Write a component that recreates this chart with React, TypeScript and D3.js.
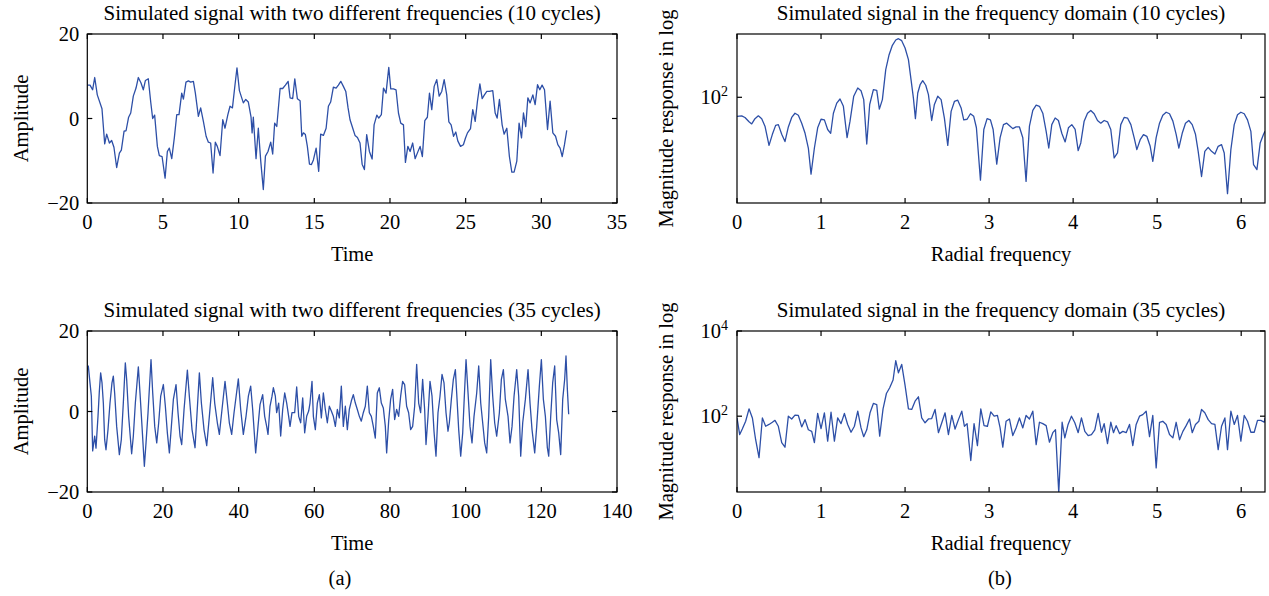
import React from 'react';
import * as d3 from 'd3';

// ---------- DATA ----------
// Top-left: simulated signal (10 cycles), [time, amplitude]
const signal10: [number, number][] = [
  [0,7.9],[0.18,7.9],[0.35,6.8],[0.49,9.7],[0.66,5.6],[0.97,2.3],[1.15,-6.0],[1.28,-3.7],[1.46,-5.8],[1.61,-5.2],[1.76,-6.8],[1.94,-11.6],[2.12,-8.2],[2.25,-7.5],[2.43,-3.0],[2.56,-2.9],[2.73,0.3],[2.87,1.3],[3.04,5.3],[3.22,7.2],[3.37,9.7],[3.55,8.4],[3.70,6.8],[3.84,9.0],[4.03,9.4],[4.19,3.9],[4.32,0.0],[4.45,0.8],[4.63,-6.6],[4.76,-8.8],[4.94,-9.0],[5.14,-14.1],[5.29,-7.8],[5.42,-7.0],[5.58,-9.5],[5.75,-4.6],[5.91,0.9],[6.06,0.9],[6.24,6.0],[6.35,4.6],[6.52,8.6],[6.68,8.9],[6.83,8.6],[7.01,8.8],[7.14,6.0],[7.34,0.5],[7.49,2.5],[7.67,-0.7],[7.85,-4.2],[8.00,-5.6],[8.15,-5.8],[8.31,-12.9],[8.46,-5.6],[8.59,-6.6],[8.77,-8.8],[8.95,-0.3],[9.10,-2.3],[9.28,0.8],[9.43,2.9],[9.59,2.5],[9.76,8.0],[9.89,12.0],[10.05,6.6],[10.31,3.7],[10.47,4.5],[10.64,3.9],[10.82,0.3],[10.89,-3.4],[10.97,0.3],[11.15,-9.5],[11.30,-2.3],[11.46,-10.1],[11.63,-16.8],[11.77,-8.9],[11.94,-7.8],[12.12,-5.6],[12.25,-8.4],[12.38,-1.1],[12.52,-1.9],[12.74,7.1],[12.91,7.1],[13.09,7.9],[13.27,8.8],[13.40,4.9],[13.57,4.7],[13.71,9.4],[13.88,4.7],[14.06,4.2],[14.17,-4.2],[14.28,-3.4],[14.41,-3.8],[14.54,-6.6],[14.68,-10.8],[14.81,-10.9],[14.94,-9.8],[15.12,-7.0],[15.29,-12.5],[15.42,-3.7],[15.60,-4.0],[15.78,-2.3],[15.93,2.9],[16.08,3.9],[16.26,7.4],[16.44,7.2],[16.59,7.9],[16.75,8.8],[16.92,7.6],[17.08,6.4],[17.23,2.5],[17.36,-0.3],[17.54,-2.3],[17.69,-4.0],[17.85,-4.5],[18.02,-5.8],[18.16,-10.8],[18.31,-12.1],[18.46,-3.8],[18.64,-7.8],[18.82,-9.6],[18.95,-1.5],[19.13,0.8],[19.26,0.1],[19.43,0.9],[19.57,7.2],[19.74,6.0],[19.92,12.1],[20.05,7.0],[20.23,7.0],[20.40,6.8],[20.56,1.3],[20.71,-1.1],[20.89,-1.5],[21.02,-10.4],[21.18,-6.6],[21.33,-7.8],[21.50,-5.8],[21.66,-9.5],[21.84,-7.9],[21.99,-6.6],[22.14,-9.0],[22.30,-0.5],[22.47,0.3],[22.61,6.0],[22.76,2.1],[22.92,7.6],[23.09,9.2],[23.25,5.3],[23.42,6.4],[23.58,9.2],[23.75,5.6],[23.89,-0.8],[24.04,-1.5],[24.20,-4.2],[24.35,-3.2],[24.48,-5.3],[24.66,-6.6],[24.85,-6.2],[24.99,-4.6],[25.12,-3.4],[25.32,-2.4],[25.47,2.1],[25.63,-0.7],[25.78,4.1],[25.94,8.2],[26.09,4.7],[26.24,5.6],[26.40,6.4],[26.57,6.4],[26.79,6.6],[26.95,1.3],[27.08,0.1],[27.23,4.5],[27.41,-1.5],[27.54,-3.7],[27.72,-2.3],[27.89,-9.0],[28.05,-12.7],[28.20,-12.7],[28.38,-10.1],[28.53,-1.1],[28.69,-4.6],[28.82,1.3],[28.97,-1.9],[29.11,4.9],[29.26,3.7],[29.44,5.6],[29.59,3.3],[29.75,8.0],[29.90,6.8],[30.05,7.9],[30.21,6.8],[30.41,-2.6],[30.58,4.1],[30.76,-3.4],[30.94,-4.2],[31.09,-6.2],[31.24,-7.0],[31.38,-9.0],[31.53,-6.2],[31.68,-2.8]
];

// Bottom-left: simulated signal (35 cycles), [time, amplitude]
const signal35: [number, number][] = [
  [0,10.4],[0.27,11.3],[0.71,7.1],[1.07,3.8],[1.42,-9.8],[1.95,-6.1],[2.30,-9.1],[2.83,-1.2],[3.18,5.0],[3.53,9.6],[3.89,7.1],[4.24,2.1],[4.59,-7.0],[4.94,-9.5],[5.47,-4.5],[6.00,2.1],[6.52,7.1],[6.88,8.8],[7.23,4.6],[7.76,-3.7],[8.47,-10.7],[8.99,-7.0],[9.52,2.1],[10.05,12.1],[10.40,8.0],[10.93,-1.2],[11.72,-10.5],[12.17,-6.1],[12.70,2.1],[13.49,11.1],[13.93,4.6],[14.46,-3.7],[15.08,-13.6],[15.52,-7.8],[16.05,-0.3],[16.84,12.9],[17.29,4.6],[17.82,-3.7],[18.35,-7.8],[18.87,-2.8],[19.40,3.8],[20.10,6.7],[20.63,1.3],[21.16,-5.3],[21.69,-10.3],[22.22,-3.7],[22.75,3.0],[23.45,6.7],[23.98,-0.3],[24.51,-6.1],[24.95,-8.2],[25.57,0.5],[26.45,10.3],[26.97,3.8],[27.68,-4.5],[28.47,-9.0],[28.91,-2.0],[29.62,9.6],[30.15,2.1],[30.85,-4.5],[31.56,-8.5],[32.26,-1.2],[33.14,8.4],[33.67,2.1],[34.37,-2.8],[34.90,-5.7],[35.60,0.5],[36.40,7.5],[37.01,2.1],[37.54,-2.8],[38.16,-5.7],[38.78,-0.3],[39.92,8.1],[40.54,0.5],[41.24,-5.7],[41.95,-1.2],[42.57,3.8],[43.18,6.3],[43.71,0.5],[44.50,-10.3],[45.12,-3.7],
  [45.65,1.7],[46.35,4.2],[46.88,-1.2],[47.41,-3.7],[47.76,-5.7],[48.29,1.3],[48.82,3.8],[49.17,5.9],[49.70,3.8],[50.05,-0.3],[50.58,2.1],[51.11,-6.1],[51.64,0.5],[52.17,4.6],[52.70,2.1],[53.22,-1.2],[53.58,-3.7],[54.10,-0.3],[54.81,-0.3],[55.34,6.1],[55.87,-1.2],[56.40,-2.8],[56.93,3.4],[57.45,-5.3],[57.98,-1.2],[58.51,0.1],[58.86,2.1],[59.39,7.5],[59.75,-1.2],[60.27,-4.5],[60.80,2.1],[61.33,4.2],[61.86,-1.6],[62.39,4.6],[62.91,0.5],[63.44,-2.8],[63.97,1.3],[64.50,0.1],[65.03,-1.2],[65.56,-3.7],[66.08,0.5],[66.61,-1.6],[67.14,6.3],[67.67,-3.7],[68.20,1.3],[68.73,-4.5],[69.25,0.5],[69.78,2.6],[70.31,4.2],[70.84,2.1],[71.37,0.5],[71.90,-1.2],[72.42,-2.4],[72.95,-0.3],[73.48,1.3],[74.01,6.3],[74.54,-0.3],[75.07,-1.2],[75.59,-3.7],[76.12,-6.6],[76.65,4.6],[77.18,5.9],[77.71,2.1],[78.24,0.9],[78.77,-3.7],[79.12,-10.3],[79.65,-2.4],[80.17,3.0],[80.70,5.5],[81.23,-2.0],[81.76,0.5],[82.29,-1.2],[82.82,3.8],[83.34,7.5],[83.87,6.7],[84.40,1.3],[84.93,-0.3],[85.46,-4.5],[85.99,-3.7],[86.52,1.3],[87.05,11.7],[87.58,2.1],[88.10,-0.3],[88.63,8.0],[89.16,0.5],[89.52,-8.2],[90.05,-1.2],[90.58,7.5],[91.11,3.8],[91.63,-4.9],[92.16,-11.1],[92.69,-0.3],[93.22,3.8],[93.75,9.2],[94.28,7.1],[94.81,-0.3],[95.33,-4.9],
  [95.69,-2.8],[96.22,3.0],[96.75,8.0],[97.28,10.4],[97.63,4.6],[98.16,-4.5],[98.69,-11.1],[99.22,-5.3],[99.57,2.1],[100.10,12.9],[100.63,4.6],[101.15,-3.7],[101.68,-7.8],[102.21,-1.2],[102.92,4.6],[103.45,11.3],[103.98,2.1],[104.50,-2.8],[105.03,-7.8],[105.56,-10.3],[106.09,-1.2],[106.62,12.9],[107.15,3.8],[107.67,-2.8],[108.20,-6.1],[108.91,-0.3],[109.44,8.0],[109.97,10.4],[110.49,3.0],[111.20,-1.2],[111.73,-7.8],[112.26,-3.7],[112.79,3.8],[113.49,10.4],[114.02,3.8],[114.55,-11.1],[115.08,-2.8],[115.78,3.0],[116.49,10.4],[117.01,2.1],[117.54,-4.5],[118.25,-10.3],[118.78,-3.7],[119.48,6.3],[120.01,12.9],[120.54,3.0],[121.07,-1.2],[121.59,-9.0],[121.95,-11.1],[122.48,-1.2],[123.00,7.1],[123.53,11.3],[124.06,-2.0],[124.59,-5.3],[125.12,-10.7],[125.65,3.0],[126.17,8.0],[126.52,13.8],[126.88,5.5],[127.23,-0.7]
];

// Top-right: magnitude spectrum (10 cycles), [radial frequency, magnitude]
const spectrum10: [number, number][] = [
  [0,50],[0.056,51],[0.095,48],[0.143,41],[0.175,38],[0.214,46],[0.254,51],[0.294,46],[0.333,35],[0.381,17.4],[0.421,26],[0.460,36],[0.492,37],[0.532,26],[0.571,20],[0.611,34],[0.651,48],[0.690,56],[0.730,52],[0.770,39],[0.810,27],[0.849,15.8],[0.881,6.1],[0.921,15.8],[0.960,33],[1.000,45],[1.040,44],[1.079,31],[1.115,27],[1.147,56],[1.187,81],[1.226,94],[1.266,72],[1.310,23],[1.345,42],[1.389,104],[1.437,140],[1.476,127],[1.508,92],[1.544,18.3],[1.579,77],[1.623,132],[1.663,129],[1.694,65],[1.730,92],[1.770,273],[1.810,471],[1.849,662],[1.889,804],[1.921,843],[1.960,785],[2.000,601],[2.040,393],[2.071,190],[2.099,98],[2.123,46],[2.151,117],[2.179,158],[2.210,183],[2.246,155],[2.278,110],[2.317,43],[2.349,77],[2.389,104],[2.429,92],[2.468,47],[2.508,17.4],[2.548,60],[2.587,86],[2.627,90],[2.667,68],[2.698,44],[2.738,45],[2.778,55],[2.817,50],[2.849,33],[2.897,4.9],[2.937,31],[2.976,46],[3.016,44],[3.048,31],[3.091,8.8],[3.131,23],[3.171,37],[3.210,39],[3.250,35],[3.282,32],[3.321,34],[3.361,34],[3.401,23],[3.440,4.7],[3.480,35],[3.520,62],[3.560,75],[3.599,72],[3.639,56],[3.679,29],[3.710,15.8],[3.746,37],[3.786,47],[3.825,43],[3.865,27],[3.905,19.7],[3.944,33],[3.984,37],[4.024,31],[4.060,14.4],[4.091,19],[4.131,42],[4.171,56],[4.210,62],[4.250,55],[4.290,43],[4.329,39],[4.369,43],[4.409,41],[4.448,31],[4.488,11],[4.528,13.2],[4.567,37],[4.607,48],[4.647,47],[4.687,37],[4.726,23],[4.758,14.9],[4.798,21.4],[4.837,25.7],[4.877,24.2],[4.917,16.8],[4.948,9.7],[4.988,23],[5.028,39],[5.067,52],[5.107,58],[5.147,55],[5.187,42],[5.226,26],[5.258,15.8],[5.298,27],[5.337,39],[5.377,43],[5.417,37],[5.456,26],[5.488,14],[5.528,5.6],[5.567,14],[5.607,16.2],[5.647,14],[5.687,12.7],[5.726,16.8],[5.766,17.9],[5.798,13.2],[5.837,3.0],[5.877,14.9],[5.917,37],[5.956,53],[5.996,58],[6.036,55],[6.075,44],[6.115,29],[6.147,8.6],[6.187,7.2],[6.226,19],[6.266,26],[6.283,29]
];

// Bottom-right: magnitude spectrum (35 cycles), [radial frequency, magnitude]
const spectrum35: [number, number][] = [
  [0,91],[0.032,37],[0.063,50],[0.103,76],[0.143,149],[0.183,91],[0.222,28],[0.262,10.6],[0.302,91],[0.341,58],[0.381,64],[0.421,72],[0.452,80],[0.492,58],[0.532,24],[0.571,18.7],[0.611,100],[0.651,86],[0.690,106],[0.730,104],[0.770,56],[0.810,83],[0.849,48],[0.889,44],[0.921,24],[0.960,116],[1.000,51],[1.040,120],[1.079,26],[1.119,124],[1.159,26],[1.198,91],[1.238,67],[1.278,116],[1.317,64],[1.357,42],[1.397,58],[1.437,131],[1.476,53],[1.508,33],[1.544,48],[1.583,120],[1.623,199],[1.663,188],[1.698,34],[1.738,149],[1.778,341],[1.817,464],[1.857,703],[1.889,2005],[1.921,1047],[1.960,1644],[2.000,527],[2.040,149],[2.079,144],[2.119,225],[2.159,285],[2.198,91],[2.238,70],[2.278,86],[2.317,88],[2.357,144],[2.397,41],[2.437,70],[2.476,120],[2.516,37],[2.556,104],[2.595,50],[2.635,83],[2.675,131],[2.706,58],[2.738,67],[2.782,9.1],[2.821,67],[2.861,20.4],[2.901,149],[2.940,60],[2.980,58],[3.020,126],[3.060,100],[3.099,104],[3.131,53],[3.163,18.7],[3.202,76],[3.242,86],[3.282,35],[3.321,53],[3.361,91],[3.401,53],[3.440,104],[3.480,86],[3.520,131],[3.560,21.5],[3.599,72],[3.639,67],[3.679,60],[3.718,24.5],[3.758,41],[3.790,48],[3.829,1.6],[3.869,72],[3.901,31],[3.940,64],[3.980,100],[4.020,70],[4.060,41],[4.099,91],[4.139,44],[4.179,35],[4.218,37],[4.258,48],[4.298,116],[4.337,42],[4.369,67],[4.409,22.7],[4.448,72],[4.480,41],[4.512,60],[4.552,39],[4.591,44],[4.631,41],[4.671,64],[4.710,20.4],[4.750,64],[4.790,100],[4.829,109],[4.869,131],[4.909,33],[4.948,104],[4.988,6.1],[5.028,72],[5.067,76],[5.107,64],[5.147,37],[5.187,31],[5.226,72],[5.266,28],[5.306,44],[5.345,60],[5.385,86],[5.417,41],[5.456,64],[5.496,76],[5.528,144],[5.567,120],[5.607,83],[5.647,67],[5.687,64],[5.726,16.4],[5.766,58],[5.806,91],[5.837,16.4],[5.877,131],[5.917,64],[5.956,104],[5.996,26],[6.036,104],[6.075,76],[6.115,42],[6.155,42],[6.194,80],[6.234,80],[6.274,72],[6.283,91]
];

const timeTicks10 = [0, 5, 10, 15, 20, 25, 30, 35];
const timeTicks35 = [0, 20, 40, 60, 80, 100, 120, 140];
const ampTicks = [-20, 0, 20];
const freqTicks = [0, 1, 2, 3, 4, 5, 6];
const magTicks10 = [2];      // exponents of 10
const magTicks35 = [2, 4];   // exponents of 10

const titles = [
  'Simulated signal with two different frequencies (10 cycles)',
  'Simulated signal with two different frequencies (35 cycles)',
  'Simulated signal in the frequency domain (10 cycles)',
  'Simulated signal in the frequency domain (35 cycles)',
];

// ---------- STYLE ----------
const FONT = '"Liberation Serif", "Times New Roman", serif';
const FS = 20.5;
const TITLE_FS = 21;
const BLUE = '#2d4fa7';

type PanelProps = {
  id: string;
  x0: number; x1: number; y0: number; y1: number;
  xDomain: [number, number];
  yDomain: [number, number];
  log: boolean;
  data: [number, number][];
  xTicks: number[];
  yTicks: number[];
  title: string;
  xLabel: string;
  yLabel: string;
  yLabelX: number;
};

function fmtAmp(v: number) {
  return v < 0 ? '\u2212' + Math.abs(v) : String(v);
}

function Panel(p: PanelProps) {
  const x = d3.scaleLinear().domain(p.xDomain).range([p.x0, p.x1]);
  const y = p.log
    ? d3.scaleLog().domain(p.yDomain).range([p.y1, p.y0])
    : d3.scaleLinear().domain(p.yDomain).range([p.y1, p.y0]);
  const line = d3.line<[number, number]>()
    .x(d => x(d[0]))
    .y(d => y(d[1]));
  const tickLen = 5;
  const cx = (p.x0 + p.x1) / 2;
  const cy = (p.y0 + p.y1) / 2;
  return (
    <g>
      <defs>
        <clipPath id={p.id}>
          <rect x={p.x0} y={p.y0} width={p.x1 - p.x0} height={p.y1 - p.y0} />
        </clipPath>
      </defs>
      <path d={line(p.data) || ''} fill="none" stroke={BLUE} strokeWidth={1.3}
        strokeLinejoin="round" clipPath={`url(#${p.id})`} />
      <rect x={p.x0} y={p.y0} width={p.x1 - p.x0} height={p.y1 - p.y0}
        fill="none" stroke="#000" strokeWidth={1.2} />
      {p.xTicks.map(t => (
        <g key={'xt' + t}>
          <line x1={x(t)} x2={x(t)} y1={p.y1} y2={p.y1 - tickLen} stroke="#000" strokeWidth={1.2} />
          <line x1={x(t)} x2={x(t)} y1={p.y0} y2={p.y0 + tickLen} stroke="#000" strokeWidth={1.2} />
          <text x={x(t)} y={p.y1 + 26} textAnchor="middle" fontFamily={FONT} fontSize={FS}>{t}</text>
        </g>
      ))}
      {p.yTicks.map(t => {
        const v = p.log ? Math.pow(10, t) : t;
        const yy = y(v);
        return (
          <g key={'yt' + t}>
            <line x1={p.x0} x2={p.x0 + tickLen} y1={yy} y2={yy} stroke="#000" strokeWidth={1.2} />
            <line x1={p.x1} x2={p.x1 - tickLen} y1={yy} y2={yy} stroke="#000" strokeWidth={1.2} />
            {p.log ? (
              <text x={p.x0 - 9} y={yy + 7} textAnchor="end" fontFamily={FONT} fontSize={FS}>
                10<tspan dy={-8} fontSize={14}>{t}</tspan>
              </text>
            ) : (
              <text x={p.x0 - 8} y={yy + 7} textAnchor="end" fontFamily={FONT} fontSize={FS}>{fmtAmp(t)}</text>
            )}
          </g>
        );
      })}
      <text x={cx} y={p.y0 - 14} textAnchor="middle" fontFamily={FONT} fontSize={TITLE_FS}>{p.title}</text>
      <text x={cx} y={p.y1 + 58} textAnchor="middle" fontFamily={FONT} fontSize={FS}>{p.xLabel}</text>
      <text transform={`translate(${p.yLabelX},${cy}) rotate(-90)`} textAnchor="middle"
        fontFamily={FONT} fontSize={FS}>{p.yLabel}</text>
    </g>
  );
}

export default function App() {
  const L = { x0: 87.3, x1: 617 };
  const R = { x0: 737, x1: 1265 };
  const T = { y0: 34, y1: 203 };
  const B = { y0: 331, y1: 492 };
  return (
    <svg width={1269} height={596} style={{ position: 'absolute', left: 0, top: 0, background: '#fff' }}>
      <rect width={1269} height={596} fill="#fff" />
      <Panel id="c1" {...L} {...T} xDomain={[0, 35]} yDomain={[-20, 20]} log={false}
        data={signal10} xTicks={timeTicks10} yTicks={ampTicks} title={titles[0]}
        xLabel="Time" yLabel="Amplitude" yLabelX={28} />
      <Panel id="c2" {...L} {...B} xDomain={[0, 140]} yDomain={[-20, 20]} log={false}
        data={signal35} xTicks={timeTicks35} yTicks={ampTicks} title={titles[1]}
        xLabel="Time" yLabel="Amplitude" yLabelX={28} />
      <Panel id="c3" {...R} {...T} xDomain={[0, 2 * Math.PI]} yDomain={[Math.pow(10, 0.33), 1000]} log={true}
        data={spectrum10} xTicks={freqTicks} yTicks={magTicks10} title={titles[2]}
        xLabel="Radial frequency" yLabel="Magnitude response in log" yLabelX={673} />
      <Panel id="c4" {...R} {...B} xDomain={[0, 2 * Math.PI]} yDomain={[Math.pow(10, 0.22), 10000]} log={true}
        data={spectrum35} xTicks={freqTicks} yTicks={magTicks35} title={titles[3]}
        xLabel="Radial frequency" yLabel="Magnitude response in log" yLabelX={673} />
      <text x={340} y={585} textAnchor="middle" fontFamily={FONT} fontSize={FS}>(a)</text>
      <text x={1000} y={585} textAnchor="middle" fontFamily={FONT} fontSize={FS}>(b)</text>
    </svg>
  );
}
